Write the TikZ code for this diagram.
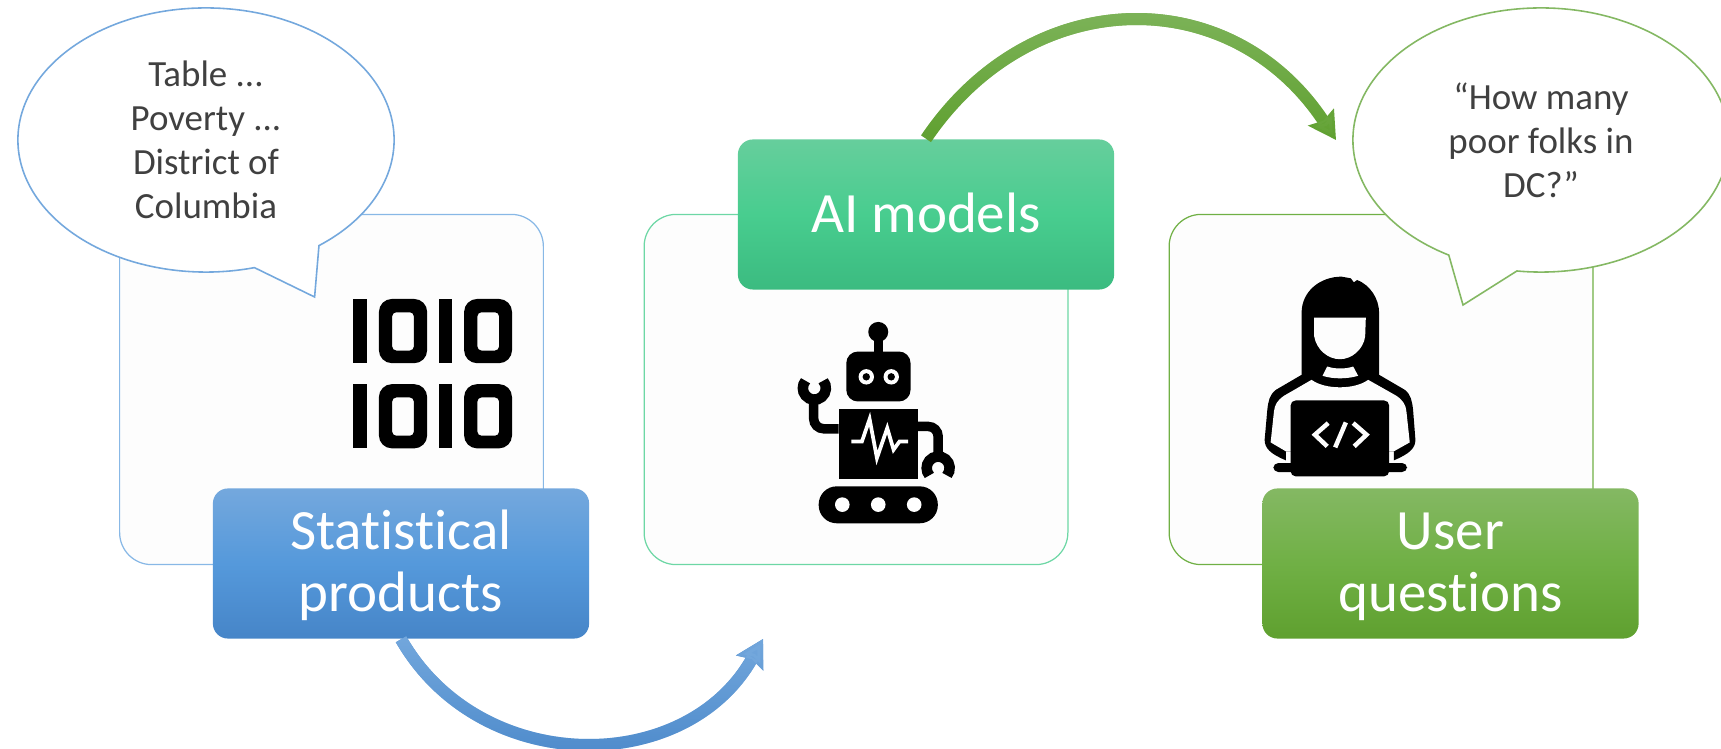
\documentclass[tikz,border=0pt]{standalone}
\usepackage{fontspec}
\setmainfont{Carlito}[Ligatures=NoCommon]
\usetikzlibrary{arrows.meta,shapes.geometric,shapes.callouts,fadings}

\definecolor{cardfill}{HTML}{FDFDFD}
\definecolor{bubbletext}{HTML}{404040}
\definecolor{bluetop}{HTML}{74A8DD}
\definecolor{bluemid}{HTML}{5599DB}
\definecolor{bluelow}{HTML}{4685C8}
\definecolor{aitop}{HTML}{66CE9C}
\definecolor{aimid}{HTML}{48CD8F}
\definecolor{ailow}{HTML}{3BBB80}
\definecolor{greentop}{HTML}{84B863}
\definecolor{greenmid}{HTML}{70B045}
\definecolor{greenlow}{HTML}{5FA02F}

\begin{document}
\begin{tikzpicture}[x=0.01cm,y=-0.01cm,
  card node/.style={draw,fill=cardfill,rounded corners=0.32cm,line width=0.35pt,
    minimum width=4.235cm,minimum height=3.5cm,inner sep=0pt},
  title node/.style={rounded corners=0.15cm,minimum width=3.76cm,minimum height=1.5cm,
    inner sep=0pt,align=center,text=white,font=\fontsize{16.2}{17.5}\selectfont},
  bubble node/.style={ellipse callout,draw,fill=white,line width=0.45pt,callout pointer arc=22,
    minimum width=3.76cm,minimum height=2.64cm,inner sep=0pt,align=center,text=bubbletext,
    font=\fontsize{10.5}{12.5}\selectfont},
  flow base/.style={line width=0.12cm,-{Stealth[length=0.27cm,width=0.3cm,inset=0.04cm]}},
  icon scope/.style={shift={#1},x=0.003333cm,y=-0.003333cm}]

  \path[use as bounding box,clip] (0,0) rectangle (1721,749);

  \node[card node,draw=bluemid!70] (statcard) at (331.5,389.5) {};
  \node[card node,draw=aimid!80] (aicard) at (856,389.5) {};
  \node[card node,draw=greenmid] (usercard) at (1381,389.5) {};

  % binary digits
  \begin{scope}[icon scope={(320,270)}]
    \fill (100,87) rectangle (140,280);
    \fill[even odd rule,rounded corners=0.13cm] (177,87) rectangle (322,280) [rounded corners=0.04cm] (217,127) rectangle (282,242);
    \fill (357,87) rectangle (397,280);
    \fill[even odd rule,rounded corners=0.13cm] (433,87) rectangle (577,280) [rounded corners=0.04cm] (473,127) rectangle (538,242);
    \fill (100,343) rectangle (140,536);
    \fill[even odd rule,rounded corners=0.13cm] (177,343) rectangle (322,536) [rounded corners=0.04cm] (217,383) rectangle (282,498);
    \fill (357,343) rectangle (397,536);
    \fill[even odd rule,rounded corners=0.13cm] (433,343) rectangle (577,536) [rounded corners=0.04cm] (473,383) rectangle (538,498);
  \end{scope}

  % robot
  \begin{scope}[icon scope={(620,280)}]
    \fill (776,156) circle (0.1cm);
    \fill (762,156) rectangle (790,230);
    \fill[rounded corners=0.115cm] (680,215) rectangle (873,365);
    \fill[white] (740,291) circle (0.077cm) (815,291) circle (0.077cm);
    \fill (740,291) circle (0.037cm) (815,291) circle (0.037cm);
    \fill (657,387) rectangle (896,597);
    \draw[white,line width=0.037cm] (695,485) -- (727,485) -- (750,418) -- (772,535) -- (803,445) -- (822,510) -- (840,485) -- (866,485);
    \draw[line width=0.095cm,rounded corners=0.1cm] (657,447) -- (582,447) -- (582,350);
    \draw[line width=0.095cm,rounded corners=0.1cm] (896,440) -- (956,440) -- (956,530);
    \draw[line width=0.105cm] (584,325) ++(40:0.115cm) arc[start angle=40,end angle=-220,radius=0.115cm];
    \draw[line width=0.105cm] (956,565) ++(-40:0.115cm) arc[start angle=-40,end angle=220,radius=0.115cm];
    \fill[rounded corners=0.18cm] (597,620) rectangle (955,731);
    \fill[white] (668,675) circle (0.073cm) (776,675) circle (0.073cm) (884,675) circle (0.073cm);
  \end{scope}

  % person with laptop
  \begin{scope}[icon scope={(1250,270)}]
    \fill (155,340) -- (155,130) .. controls (155,60) and (215,20) .. (275,20) -- (303,25) -- (312,37) -- (322,30) .. controls (360,45) and (388,85) .. (388,130) -- (388,340) -- cycle;
    \fill (155,315) -- (78,360) .. controls (58,375) and (55,395) .. (52,420) -- (44,510) .. controls (44,535) and (60,552) .. (108,572) -- (108,545) -- (432,545) -- (432,572) .. controls (480,552) and (497,535) .. (497,510) -- (490,420) .. controls (487,395) and (484,375) .. (465,360) -- (388,315) -- cycle;
    \fill[cardfill] (185,330) .. controls (225,360) and (315,360) .. (355,330) -- (440,378) .. controls (460,392) and (468,405) .. (470,425) -- (480,518) -- (432,545) -- (108,545) -- (62,518) -- (72,425) .. controls (74,405) and (82,392) .. (102,378) -- cycle;
    \fill[cardfill] (193,143) -- (348,143) -- (346,200) .. controls (340,240) and (305,268) .. (270,268) .. controls (235,268) and (200,240) .. (193,200) -- cycle;
    \fill[cardfill] (232,290) .. controls (255,298) and (288,298) .. (310,290) -- (325,318) .. controls (290,328) and (250,328) .. (218,318) -- cycle;
    \fill[rounded corners=0.05cm] (122,620) -- (122,392) -- (418,392) -- (418,620) -- cycle;
    \fill[rounded corners=0.05cm] (70,607) -- (70,580) -- (472,580) -- (472,607) -- cycle;
    \draw[cardfill,line width=0.045cm] (235,460) -- (195,495) -- (232,530);
    \draw[cardfill,line width=0.045cm] (288,458) -- (256,533);
    \draw[cardfill,line width=0.045cm] (310,460) -- (350,495) -- (313,530);
  \end{scope}

  \node[title node,top color=bluetop,bottom color=bluelow,middle color=bluemid] (stat) at (401,563.5) {\rule{0pt}{0.43cm}Statistical\\products};
  \node[title node,text depth=0.045cm,top color=aitop,bottom color=ailow,middle color=aimid] (aimodels) at (926,214.5) {AI models};
  \node[title node,top color=greentop,bottom color=greenlow,middle color=greenmid] (user) at (1450.5,563.5) {\rule{0pt}{0.43cm}User\\questions};

  \node[bubble node,draw=bluetop,callout absolute pointer={(314.6,297)}] (statbubble) at (206,140) {Table ...\\Poverty ...\\District of\\Columbia};
  \node[bubble node,draw=greentop,callout absolute pointer={(1463,305)}] (userbubble) at (1541,140) {“How many\\poor folks in\\DC?”};

  \coordinate (aitip) at (763,639);
  \coordinate (usertip) at (1336,140);

  \draw[flow base,bluelow] (stat.south) .. controls (480,777) and (686,777) .. (aitip);
  \draw[flow base,bluetop,path fading=south] (stat.south) .. controls (480,777) and (686,777) .. (aitip);
  \draw[flow base,greenlow] (aimodels.north) .. controls (1032,-18) and (1232,-18) .. (usertip);
  \draw[flow base,greentop,path fading=south] (aimodels.north) .. controls (1032,-18) and (1232,-18) .. (usertip);

\end{tikzpicture}
\end{document}
